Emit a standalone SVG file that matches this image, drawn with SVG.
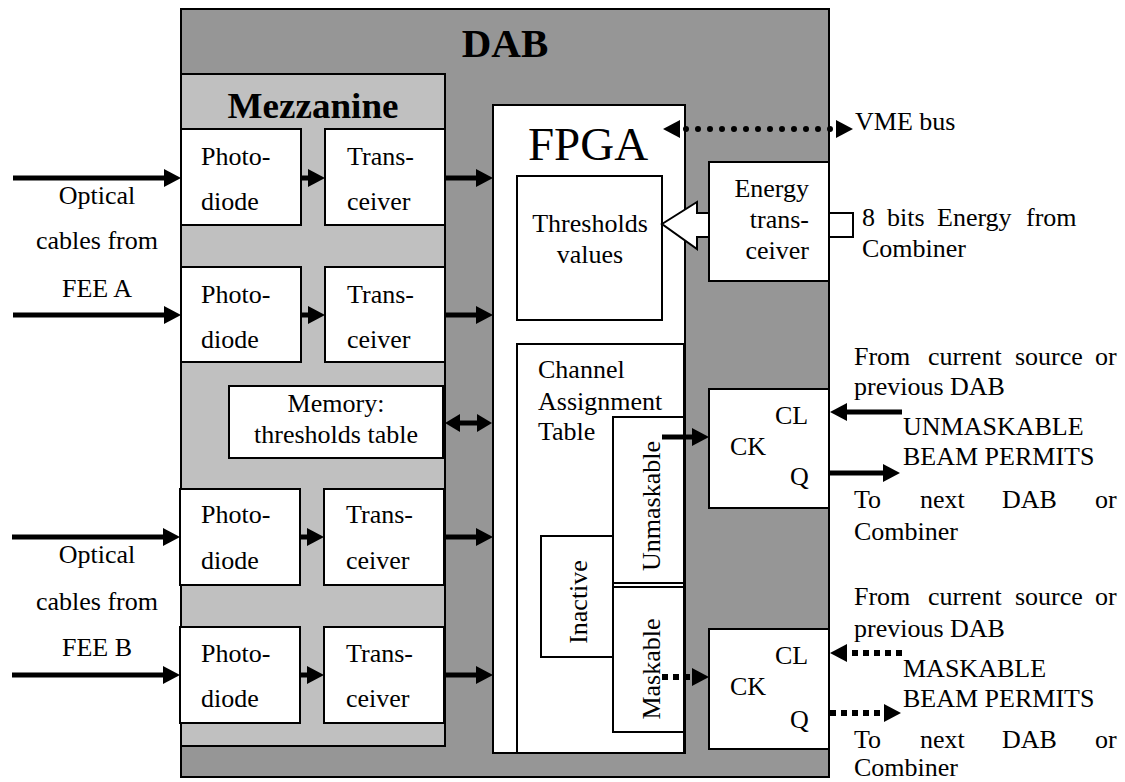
<svg xmlns="http://www.w3.org/2000/svg" width="1125" height="782" viewBox="0 0 1125 782">
<style>
text{font-family:"Liberation Serif","Times New Roman",serif;font-size:26px;fill:#000}
.box{fill:#fff;stroke:#000;stroke-width:2}
.b{font-weight:bold}
.mid{text-anchor:middle}
.end{text-anchor:end}
.arr{stroke:#000;stroke-width:5;fill:none}
.dot{stroke:#000;stroke-width:6;fill:none;stroke-dasharray:0 12;stroke-linecap:round}
.dash{stroke:#000;stroke-width:6;fill:none;stroke-dasharray:6 5}
</style>
<defs>
<marker id="h" markerUnits="userSpaceOnUse" markerWidth="17" markerHeight="18" viewBox="0 0 17 18" refX="0" refY="9" orient="auto-start-reverse"><path d="M0,0 L17,9 L0,18 z" fill="#000"/></marker>
<marker id="hs" markerUnits="userSpaceOnUse" markerWidth="15" markerHeight="18" viewBox="0 0 15 18" refX="0" refY="9" orient="auto-start-reverse"><path d="M0,0 L15,9 L0,18 z" fill="#000"/></marker>
</defs>

<g id="dab">
<rect x="181" y="9" width="648" height="768" fill="#969696" stroke="#000" stroke-width="2"/>
<text x="505" y="57" class="b mid" style="font-size:41px">DAB</text>
</g>

<g id="mezzanine">
<rect x="181" y="74" width="264" height="672" fill="#c0c0c0" stroke="#000" stroke-width="2"/>
<text x="313" y="118" class="b mid" style="font-size:35px" textLength="171" lengthAdjust="spacingAndGlyphs">Mezzanine</text>
</g>

<g id="photodiode1"><rect class="box" x="181" y="129" width="120" height="96"/><text x="201" y="165">Photo-</text><text x="201" y="210">diode</text></g>
<g id="transceiver1"><rect class="box" x="325" y="129" width="120" height="96"/><text x="347" y="165">Trans-</text><text x="347" y="210">ceiver</text></g>
<g id="photodiode2"><rect class="box" x="181" y="267" width="120" height="95"/><text x="201" y="303">Photo-</text><text x="201" y="348">diode</text></g>
<g id="transceiver2"><rect class="box" x="325" y="267" width="120" height="95"/><text x="347" y="303">Trans-</text><text x="347" y="348">ceiver</text></g>
<g id="memory"><rect class="box" x="229" y="386" width="214" height="72"/><text x="336" y="412" class="mid">Memory:</text><text x="336" y="443" class="mid">thresholds table</text></g>
<g id="photodiode3"><rect class="box" x="180" y="489" width="120" height="96"/><text x="201" y="523">Photo-</text><text x="201" y="569">diode</text></g>
<g id="transceiver3"><rect class="box" x="324" y="489" width="120" height="96"/><text x="346" y="523">Trans-</text><text x="346" y="569">ceiver</text></g>
<g id="photodiode4"><rect class="box" x="180" y="627" width="120" height="96"/><text x="201" y="662">Photo-</text><text x="201" y="707">diode</text></g>
<g id="transceiver4"><rect class="box" x="324" y="627" width="120" height="96"/><text x="346" y="662">Trans-</text><text x="346" y="707">ceiver</text></g>

<g id="fpga">
<rect class="box" x="493" y="105" width="192" height="648"/>
<text x="588" y="160" class="mid" style="font-size:47px">FPGA</text>
</g>
<g id="thresholds"><rect class="box" x="517" y="176" width="145" height="144"/><text x="590" y="232" class="mid">Thresholds</text><text x="590" y="263" class="mid">values</text></g>
<g id="channel-table"><rect class="box" x="517" y="344" width="167" height="409"/><text x="538" y="378">Channel</text><text x="538" y="410">Assignment</text><text x="538" y="440">Table</text></g>
<g id="unmaskable"><rect class="box" x="613" y="417" width="71" height="166"/><text class="mid" transform="translate(660,506) rotate(-90)">Unmaskable</text></g>
<g id="maskable"><rect class="box" x="613" y="587" width="71" height="145"/><text class="mid" transform="translate(660,669) rotate(-90)">Maskable</text></g>
<g id="inactive"><rect class="box" x="541" y="536" width="72" height="121"/><text class="mid" transform="translate(587,602) rotate(-90)">Inactive</text></g>

<g id="energy-transceiver"><rect class="box" x="709" y="162" width="120" height="119"/><text x="809" y="197" class="end">Energy</text><text x="809" y="228" class="end">trans-</text><text x="809" y="259" class="end">ceiver</text></g>
<g id="flipflop1"><rect class="box" x="709" y="389" width="120" height="119"/><text x="775" y="424">CL</text><text x="730" y="455">CK</text><text x="790" y="485">Q</text></g>
<g id="flipflop2"><rect class="box" x="709" y="629" width="120" height="120"/><text x="775" y="664">CL</text><text x="730" y="695">CK</text><text x="790" y="728">Q</text></g>

<g id="labels">
<text x="97" y="204" class="mid">Optical</text>
<text x="97" y="249" class="mid">cables from</text>
<text x="97" y="297" class="mid">FEE A</text>
<text x="97" y="563" class="mid">Optical</text>
<text x="97" y="610" class="mid">cables from</text>
<text x="97" y="656" class="mid">FEE B</text>
<text x="855" y="130">VME bus</text>
<text y="226"><tspan x="862">8</tspan><tspan x="887">bits</tspan><tspan x="937">Energy</tspan><tspan x="1026">from</tspan></text>
<text x="862" y="257">Combiner</text>
<text y="365"><tspan x="854">From</tspan><tspan x="928">current</tspan><tspan x="1015">source</tspan><tspan x="1095">or</tspan></text>
<text x="854" y="395">previous DAB</text>
<text x="903" y="435">UNMASKABLE</text>
<text x="903" y="465">BEAM PERMITS</text>
<text y="508"><tspan x="854">To</tspan><tspan x="920">next</tspan><tspan x="1002">DAB</tspan><tspan x="1095">or</tspan></text>
<text x="854" y="540">Combiner</text>
<text y="605"><tspan x="854">From</tspan><tspan x="928">current</tspan><tspan x="1015">source</tspan><tspan x="1095">or</tspan></text>
<text x="854" y="637">previous DAB</text>
<text x="903" y="677">MASKABLE</text>
<text x="903" y="707">BEAM PERMITS</text>
<text y="748"><tspan x="854">To</tspan><tspan x="920">next</tspan><tspan x="1002">DAB</tspan><tspan x="1095">or</tspan></text>
<text x="854" y="776">Combiner</text>
</g>

<g id="connectors">
<line class="arr" x1="13" y1="178" x2="164" y2="178" marker-end="url(#h)"/>
<line class="arr" x1="13" y1="315" x2="164" y2="315" marker-end="url(#h)"/>
<line class="arr" x1="12" y1="537" x2="163" y2="537" marker-end="url(#h)"/>
<line class="arr" x1="12" y1="675" x2="163" y2="675" marker-end="url(#h)"/>
<line class="arr" x1="301" y1="178" x2="308" y2="178" marker-end="url(#h)"/>
<line class="arr" x1="301" y1="315" x2="308" y2="315" marker-end="url(#h)"/>
<line class="arr" x1="300" y1="537" x2="307" y2="537" marker-end="url(#h)"/>
<line class="arr" x1="300" y1="675" x2="307" y2="675" marker-end="url(#h)"/>
<line class="arr" x1="445" y1="178" x2="476" y2="178" marker-end="url(#h)"/>
<line class="arr" x1="445" y1="315" x2="476" y2="315" marker-end="url(#h)"/>
<line class="arr" x1="444" y1="537" x2="476" y2="537" marker-end="url(#h)"/>
<line class="arr" x1="444" y1="675" x2="476" y2="675" marker-end="url(#h)"/>
<line class="arr" x1="460" y1="423" x2="477" y2="423" marker-start="url(#hs)" marker-end="url(#hs)"/>
<line class="dot" x1="686" y1="129" x2="832" y2="129"/>
<line x1="680" y1="129" x2="836" y2="129" stroke="none" marker-start="url(#h)" marker-end="url(#h)"/>
<polygon points="662,224 697,202 697,213 709,213 709,237 697,237 697,249" fill="#fff" stroke="#000" stroke-width="2"/>
<path d="M829,213 H853 V237 H829" fill="none" stroke="#000" stroke-width="2"/>
<line class="arr" x1="662" y1="437" x2="692" y2="437" marker-end="url(#h)"/>
<line class="dash" x1="662" y1="677" x2="692" y2="677" marker-end="url(#h)"/>
<line class="arr" x1="902" y1="412" x2="847" y2="412" marker-end="url(#h)"/>
<line class="arr" x1="830" y1="473" x2="883" y2="473" marker-end="url(#h)"/>
<line class="dash" x1="902" y1="653" x2="847" y2="653" marker-end="url(#h)"/>
<line class="dash" x1="830" y1="713" x2="884" y2="713" marker-end="url(#h)"/>
</g>
</svg>
